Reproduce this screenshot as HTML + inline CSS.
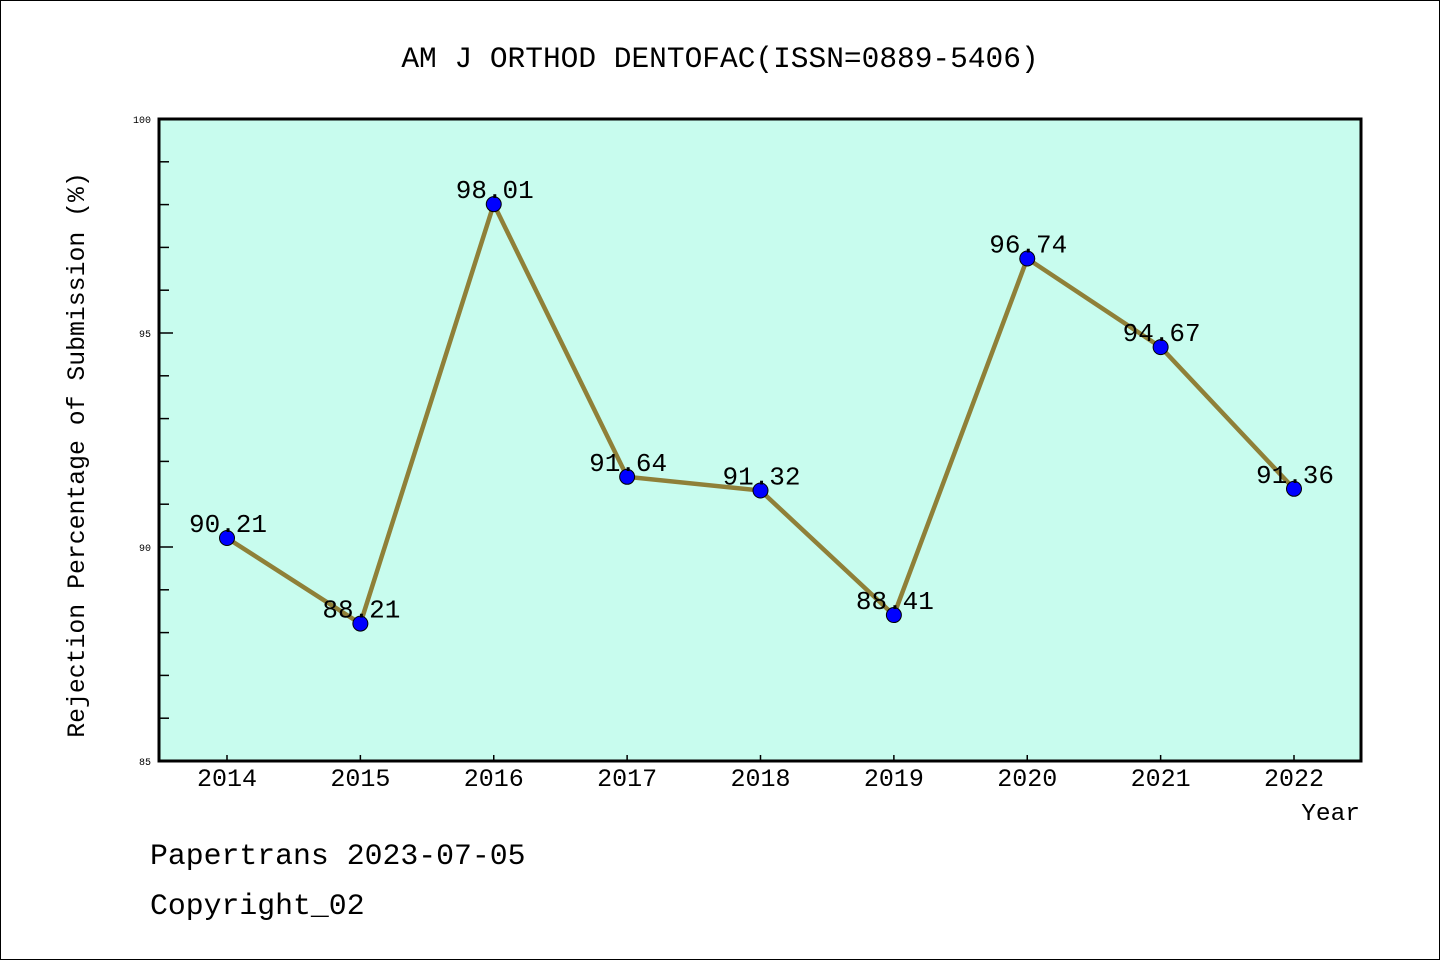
<!DOCTYPE html>
<html><head><meta charset="utf-8"><style>
body{margin:0;background:#fff}
svg text{font-family:"Liberation Mono","DejaVu Sans Mono",monospace}
</style></head><body>
<svg id="c" width="1440" height="960">
<rect x="0.5" y="0.5" width="1439" height="959" fill="#fff" stroke="#000"/>
<text x="720" y="67" text-anchor="middle" font-size="29.5">AM J ORTHOD DENTOFAC(ISSN=0889-5406)</text>
<rect x="159" y="119" width="1202" height="642" fill="#c8fcee"/>
<g id="ticks"></g>
<g id="series"></g>
<rect x="159" y="119" width="1202" height="642" fill="none" stroke="#000" stroke-width="3"/>
<text transform="translate(84,455) rotate(-90)" text-anchor="middle" font-size="24.8">Rejection Percentage of Submission (%)</text>
<text x="1360" y="820" text-anchor="end" font-size="24.5">Year</text>
<text x="150" y="864" font-size="29.8">Papertrans 2023-07-05</text>
<text x="150" y="914" font-size="29.8">Copyright_02</text>
</svg>
<script>
const years=["2014","2015","2016","2017","2018","2019","2020","2021","2022"];
const values=[90.21,88.21,98.01,91.64,91.32,88.41,96.74,94.67,91.36];
const yTicks=[85,90,95,100];
const yMin=85,yMax=100;
const NS="http://www.w3.org/2000/svg";
const X=i=>227+i*(1294-227)/(years.length-1);
const Y=v=>761-(v-yMin)*(761-119)/(yMax-yMin);
function mk(t,a,p){const e=document.createElementNS(NS,t);for(const k in a)e.setAttribute(k,a[k]);p.appendChild(e);return e;}
const tg=document.getElementById('ticks'),sg=document.getElementById('series');
for(let v=yMin;v<=yMax;v++){
 const major=yTicks.includes(v);
 const l=mk('line',{x1:159,x2:major?173:169,y1:Y(v),y2:Y(v),stroke:'#000','stroke-width':1.5},tg);
 
 
}
yTicks.forEach(v=>{const t=mk('text',{x:151,y:Y(v)+4,'text-anchor':'end','font-size':10},tg);t.textContent=v;
 
 });
years.forEach((yr,i)=>{
 const l=mk('line',{x1:X(i),x2:X(i),y1:761,y2:755,stroke:'#000','stroke-width':1.5},tg);
 
 
 const t=mk('text',{x:X(i),y:786,'text-anchor':'middle','font-size':25},tg);t.textContent=yr;
 
 
});
const pl=mk('polyline',{points:values.map((v,i)=>X(i)+','+Y(v)).join(' '),fill:'none',stroke:'#8f8038','stroke-width':4.5},sg);


values.forEach((v,i)=>{
 const c=mk('circle',{cx:X(i),cy:Y(v),r:7.5,fill:'#0000ff',stroke:'#000','stroke-width':1},sg);
 
 
 const t=mk('text',{x:X(i)+1,y:Y(v)-6,'text-anchor':'middle','font-size':26},sg);t.textContent=v.toFixed(2);
 
 
});
</script>
</body></html>
